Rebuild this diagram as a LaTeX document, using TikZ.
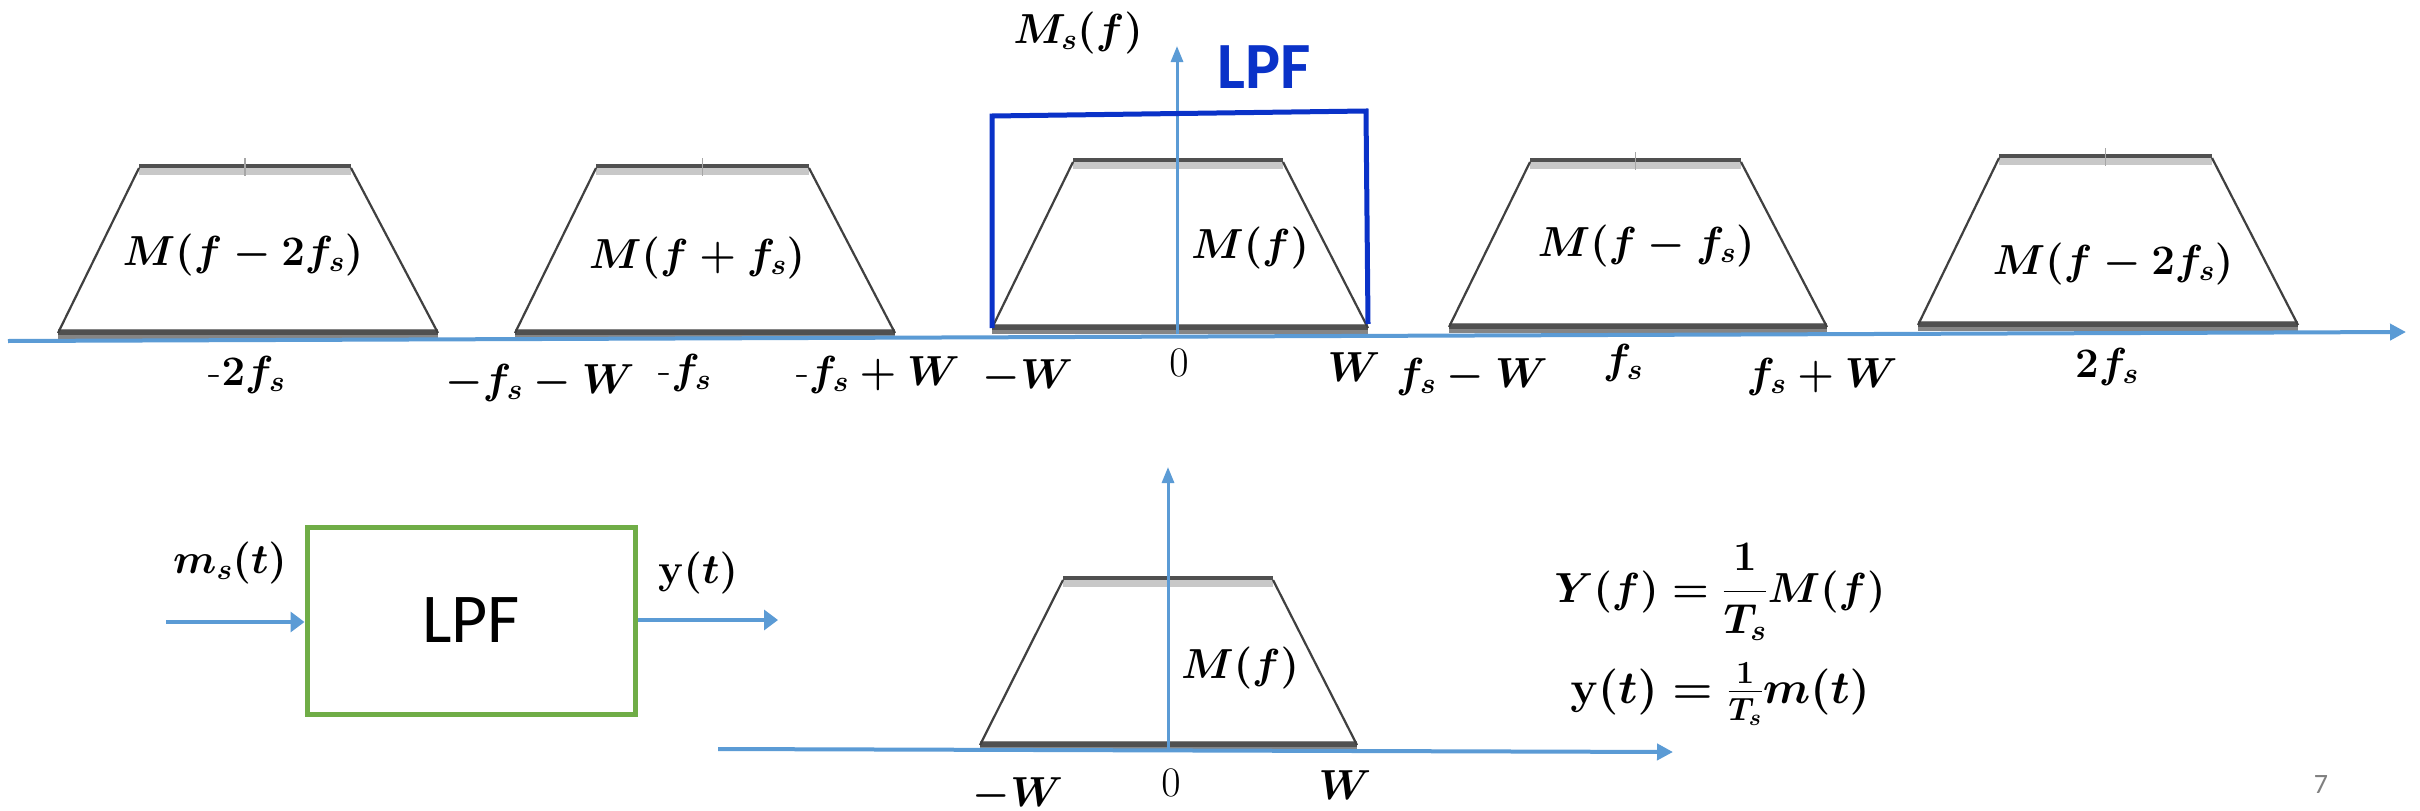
\RequirePackage{fix-cm}
\documentclass[tikz,border=0pt]{standalone}
\usepackage{amsmath}
\usepackage{fontspec}
\newfontfamily\calibri{Carlito}
\usetikzlibrary{arrows.meta,calc}
\definecolor{axblue}{HTML}{5B9BD5}
\definecolor{lpfblue}{HTML}{0A32C8}
\definecolor{boxgreen}{HTML}{70AD47}
\definecolor{edgegray}{HTML}{505050}
\definecolor{edgelight}{HTML}{C8C8C8}
\tikzset{
  axis/.style={draw=axblue,line width=4pt,-{Triangle[length=16pt,width=16pt]}},
  vaxis/.style={draw=axblue,line width=3pt,-{Triangle[length=16pt,width=12pt]}},
  sig/.style={draw=axblue,line width=4.5pt,-{Triangle[length=14pt,width=20pt]}},
  side/.style={draw=black!75,line width=2.2pt},
  lab/.style={inner sep=0pt,font=\fontsize{42}{50}\selectfont\boldmath},
  labn/.style={inner sep=0pt,font=\fontsize{42}{50}\selectfont},
}
\newcommand{\trapez}[7]{%
  \coordinate (#1bl) at (#2,#7);
  \coordinate (#1br) at (#3,#7);
  \coordinate (#1tl) at (#4,#6);
  \coordinate (#1tr) at (#5,#6);
  \draw[edgelight,line width=9pt] ([yshift=-2pt]#1tl) -- ([yshift=-2pt]#1tr);
  \draw[edgegray,line width=4pt] ([yshift=2pt]#1tl) -- ([yshift=2pt]#1tr);
  \draw[edgegray!70,line width=10pt] ([yshift=-1pt]#1bl) -- ([yshift=-1pt]#1br);
  \draw[edgegray,line width=5pt] ([yshift=1pt]#1bl) -- ([yshift=1pt]#1br);
  \draw[side] (#1bl) -- (#1tl);
  \draw[side] (#1br) -- (#1tr);
  \draw[black!35,line width=1.5pt] ($(#1tl)!0.5!(#1tr)+(0,-10)$) -- ($(#1tl)!0.5!(#1tr)+(0,8)$);
}
\begin{document}
\begin{tikzpicture}[x=1pt,y=-1pt]
\useasboundingbox[fill=white] (0,0) rectangle (2420,811);

% ---------- top spectrum ----------
\trapez{a}{58}{438}{139}{351}{168}{333}
\trapez{b}{515}{895}{596}{809}{168}{333}
\trapez{c}{992}{1368}{1073}{1283}{162}{328}
\trapez{d}{1449}{1827}{1530}{1741}{162}{327}
\trapez{e}{1918}{2298}{1999}{2212}{158}{325}

\coordinate (axL) at (8,341);
\coordinate (axR) at (2406,332);
\draw[axis] (axL) -- (axR);
\coordinate (vb) at (1177,334);
\coordinate (vt) at (1177,46);
\draw[vaxis] (vb) -- (vt);

% LPF window
\coordinate (l1) at (992,328);
\coordinate (l2) at (992,116);
\coordinate (l3) at (1366,111);
\coordinate (l4) at (1368,324);
\draw[lpfblue,line width=5pt,line join=miter] (l1) -- (l2) -- (l3) -- (l4);
\node[inner sep=0pt,text=lpfblue,font=\calibri\bfseries\fontsize{66}{70}\selectfont] (lpft) at (1264,67) {LPF};
\node[lab] (ms) at (1078,33) {$M_s(f)$};

\node[lab] (ta) at (243,255) {$M(f-2f_s)$};
\node[lab] (tb) at (697,258) {$M(f+f_s)$};
\node[lab] (tc) at (1250,248) {$M(f)$};
\node[lab] (td) at (1646,246) {$M(f-f_s)$};
\node[lab] (te) at (2113,264) {$M(f-2f_s)$};

\node[lab] (x1) at (247,375) {-$2f_s$};
\node[lab] (x2) at (540,383) {$-f_s-W$};
\node[lab] (x3) at (685,373) {-$f_s$};
\node[lab] (x4) at (878,375) {-$f_s+W$};
\node[lab] (x5) at (1028,377) {$-W$};
\node[labn] (x6) at (1179,363) {$0$};
\node[lab] (x7) at (1354,367) {$W$};
\node[lab] (x8) at (1472,377) {$f_s-W$};
\node[lab] (x9) at (1623,363) {$f_s$};
\node[lab] (x10) at (1822,377) {$f_s+W$};
\node[lab] (x11) at (2107,367) {$2f_s$};

% ---------- bottom block diagram ----------
\node[draw=boxgreen,line width=5pt,minimum width=328pt,minimum height=187pt,inner sep=0pt,
      font=\calibri\fontsize{70}{80}\selectfont] (box) at (471,620.5) {LPF};
\coordinate (inp) at (166,622);
\coordinate (outp) at (778,620);
\draw[sig] (inp) -- (box.west |- inp);
\draw[sig] (box.east |- outp) -- (outp);
\node[lab] (mst) at (230,563) {$m_s(t)$};
\node[lab] (yt) at (698,573) {$\mathbf{y}(t)$};

% ---------- bottom spectrum ----------
\trapez{f}{980}{1357}{1063}{1273}{580}{745}
\coordinate (bL) at (718,749);
\coordinate (bR) at (1673,752);
\draw[axis] (bL) -- (bR);
\coordinate (bvb) at (1168,751);
\coordinate (bvt) at (1168,467);
\draw[vaxis] (bvb) -- (bvt);
\node[lab] (tf) at (1240,668) {$M(f)$};
\node[lab] (y1) at (1018,795) {$-W$};
\node[labn] (y2) at (1171,783) {$0$};
\node[lab] (y3) at (1345,785) {$W$};

% equations
\node[lab] (eq1) at (1720,592) {$Y(f)=\dfrac{1}{T_s}M(f)$};
\node[inner sep=0pt,font=\fontsize{46}{54}\selectfont\boldmath] (eq2) at (1720,694) {$\mathbf{y}(t)=\tfrac{1}{T_s}m(t)$};

\node[inner sep=0pt,text=black!50,font=\calibri\fontsize{28}{30}\selectfont] (pg) at (2321,785) {7};
\end{tikzpicture}
\end{document}
